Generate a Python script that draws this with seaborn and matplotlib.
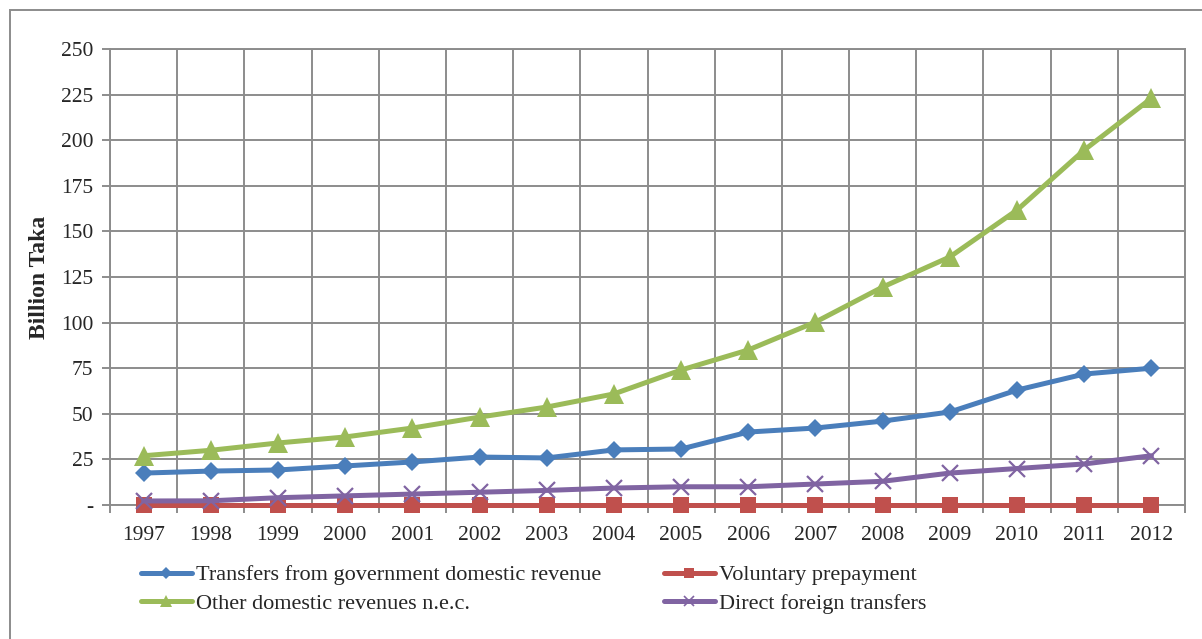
import numpy as np
import pandas as pd
import matplotlib
matplotlib.use('Agg')
import matplotlib.pyplot as plt
import seaborn as sns
from matplotlib.ticker import MultipleLocator, FixedLocator, FuncFormatter
from matplotlib.patches import Rectangle
from matplotlib.lines import Line2D

sns.set_style('white')
plt.rcParams['font.family'] = ['Liberation Serif', 'DejaVu Serif']

# data (billion Taka)
years = list(range(1997, 2013))
transfers_gov = [17.5, 18.6, 19.2, 21.4, 23.6, 26.3, 25.8, 30.2, 30.7, 40.0, 42.2, 46.0, 51.0, 63.0, 71.8, 75.0]
voluntary = [0.2] * 16
other_dom = [27.0, 30.0, 34.0, 37.3, 42.2, 48.2, 53.7, 60.9, 74.0, 85.0, 100.3, 119.5, 136.0, 161.7, 194.6, 223.0]
foreign = [2.2, 2.3, 4.0, 5.0, 6.0, 7.0, 8.0, 9.3, 10.0, 10.0, 11.5, 13.0, 17.5, 20.0, 22.5, 27.0]

names = ['Transfers from government domestic revenue', 'Voluntary prepayment',
         'Other domestic revenues n.e.c.', 'Direct foreign transfers']
colors = ['#4A7EBB', '#C0504D', '#9BBB59', '#8064A2']
markers = ['D', 's', '^', 'x']
msizes = [9.5, 12, 14, 12]

fig = plt.figure(figsize=(12.02, 6.39), dpi=100)
ax = fig.add_axes([110/1202, 1-505/639, 1075/1202, 456/639])

series = [transfers_gov, voluntary, other_dom, foreign]
for i, vals in enumerate(series):
    df = pd.DataFrame({'year': years, 'value': vals})
    sns.lineplot(data=df, x='year', y='value', ax=ax, color=colors[i],
                 marker=markers[i], markersize=msizes[i], linewidth=3.6,
                 markeredgewidth=1.6 if markers[i] == 'x' else 0,
                 markeredgecolor=colors[i], zorder=3+i, clip_on=False)

ax.set_xlim(1996.5, 2012.5)
ax.set_ylim(0, 250)
ax.yaxis.set_major_locator(MultipleLocator(25))
ax.yaxis.set_major_formatter(FuncFormatter(lambda v, p: '-' if v == 0 else '%d' % v))
ax.xaxis.set_major_locator(FixedLocator(years))
ax.xaxis.set_minor_locator(FixedLocator([y + 0.5 for y in [1996] + years]))
ax.set_xticklabels([str(y) for y in years])

gcol = '#8C8C8C'
ax.grid(False)
ax.grid(True, axis='y', which='major', color=gcol, linewidth=1.4)
ax.grid(True, axis='x', which='minor', color=gcol, linewidth=1.4)
for s in ax.spines.values():
    s.set_color(gcol)
    s.set_linewidth(1.4)
ax.tick_params(axis='x', which='major', length=0, labelsize=15.5, pad=15)
ax.tick_params(axis='x', which='minor', length=6, color=gcol, width=1.4, direction='out', bottom=True)
ax.tick_params(axis='y', which='major', length=6, color=gcol, width=1.4, direction='out', labelsize=15.5, left=True, pad=6)
ax.set_xlabel('')
ax.set_ylabel('Billion Taka', fontsize=17, fontweight='bold', labelpad=8)

# legend: two rows, two columns
handles = [Line2D([], [], color=colors[i], marker=markers[i], markersize=msizes[i] * 0.6,
                  linewidth=3.6, markeredgewidth=1.2 if markers[i] == 'x' else 0,
                  markeredgecolor=colors[i]) for i in range(4)]
order = [0, 2, 1, 3]
fig.legend([handles[i] for i in order], [names[i] for i in order], ncol=2,
           loc='upper left', bbox_to_anchor=(132/1202, 1-556/639), frameon=False,
           fontsize=16, handlelength=2.3, handletextpad=0.2, columnspacing=2.8,
           labelspacing=0.35, borderaxespad=0)

# outer chart border
fig.patches.append(Rectangle((10/1202, -0.1), 1.2, 1 - 10/639 + 0.1, transform=fig.transFigure,
                             fill=False, edgecolor='#8C8C8C', linewidth=1.4, clip_on=False))

fig.savefig('out.png', dpi=100)
